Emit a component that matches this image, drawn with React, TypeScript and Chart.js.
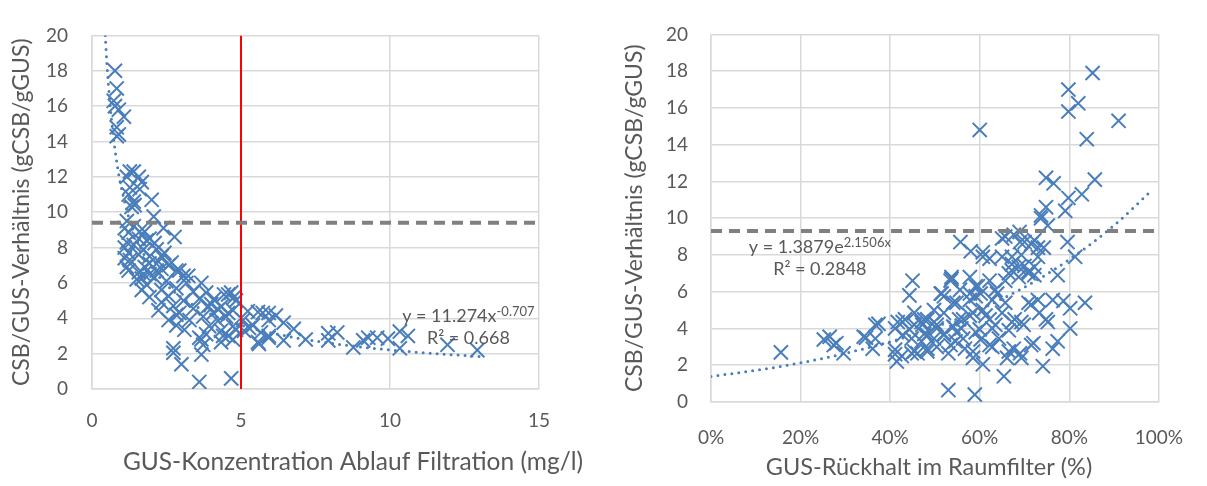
import { useEffect, useRef } from 'react';
import { Chart, registerables } from 'chart.js';

Chart.register(...registerables);

const FONT = 'Lato, "Open Sans", sans-serif';
const TEXT = '#595959';
const BLUE = '#4a7ebb';
const GRID = '#d9d9d9';

// ---------- Left chart: GUS-Konzentration vs CSB/GUS ----------
const leftX = [
  0.77, 0.83, 0.73, 0.77, 0.9, 1.07, 0.83, 0.9, 0.83, 1.27, 1.4, 1.17, 1.57, 1.67, 1.27, 1.6, 1.23, 2.0, 1.4, 1.43,
  1.33, 2.07, 1.17, 1.4, 1.1, 2.4, 1.77, 1.23, 1.6, 2.77, 1.57, 1.93, 1.17, 2.1, 1.83, 1.4, 1.1, 1.73, 2.17, 2.43,
  1.23, 1.57, 1.93, 2.33, 1.27, 1.1, 2.23, 2.67, 1.93, 2.57, 1.17, 1.77, 2.33, 2.93, 1.23, 2.17, 2.83, 1.57, 1.93, 1.73,
  3.23, 3.07, 2.1, 1.67, 1.5, 2.5, 3.67, 3.17, 1.83, 1.67, 2.33, 2.83, 3.4, 3.83, 4.67, 4.43, 4.57, 2.57, 4.77, 1.93,
  3.6, 4.1, 3.07, 4.83, 2.33, 4.0, 2.73, 3.9, 4.33, 3.4, 4.23, 2.23, 4.73, 5.23, 5.57, 2.93, 4.07, 4.57, 5.73, 5.93,
  2.83, 3.73, 4.5, 2.57, 3.27, 5.07, 5.93, 4.23, 6.43, 2.83, 5.4, 3.93, 4.73, 5.27, 6.77, 3.1, 4.83, 4.33, 5.1, 5.67,
  3.83, 4.57, 4.4, 5.93, 5.93, 3.6, 3.67, 4.73, 6.43, 4.33, 5.57, 5.6, 3.73, 2.73, 2.73, 3.67, 3.0, 3.6, 4.67, 6.17,
  7.17, 7.93, 8.23, 7.93, 8.77, 9.1, 9.27, 9.57, 9.93, 10.33, 10.6, 10.33, 11.93, 12.93,
];
const leftY = [
  18.0, 17.0, 16.3, 16.0, 15.8, 15.4, 14.8, 14.4, 14.3, 12.3, 12.3, 12.0, 12.0, 11.7, 11.4, 11.3, 11.0, 10.7, 10.6, 10.4,
  10.3, 9.75, 9.5, 9.2, 9.1, 9.1, 8.9, 8.85, 8.9, 8.6, 8.5, 8.5, 8.3, 8.25, 8.4, 8.15, 8.0, 7.9, 7.9, 7.7,
  7.7, 7.6, 7.5, 7.5, 7.3, 7.4, 7.2, 7.15, 7.1, 7.0, 6.9, 6.9, 6.8, 6.7, 6.7, 6.7, 6.7, 6.6, 6.5, 6.5,
  6.4, 6.4, 6.3, 6.25, 6.2, 6.1, 6.0, 6.0, 5.9, 5.6, 5.6, 5.7, 5.5, 5.45, 5.45, 5.35, 5.35, 5.25, 5.2, 5.2,
  5.1, 5.1, 5.0, 5.0, 4.9, 4.8, 4.7, 4.7, 4.65, 4.55, 4.5, 4.45, 4.45, 4.4, 4.35, 4.3, 4.3, 4.3, 4.3, 4.3,
  4.2, 4.1, 4.1, 3.9, 3.9, 3.9, 3.9, 3.85, 3.75, 3.6, 3.6, 3.55, 3.55, 3.45, 3.4, 3.35, 3.35, 3.3, 3.3, 3.2,
  3.1, 3.0, 3.0, 3.0, 2.9, 2.9, 2.8, 2.8, 2.75, 2.65, 2.65, 2.55, 2.5, 2.3, 2.05, 1.95, 1.4, 0.4, 0.6, 4.15,
  2.8, 3.15, 3.2, 2.75, 2.35, 2.75, 2.9, 2.9, 2.85, 3.25, 3.0, 2.3, 2.5, 2.2,
];
const leftTrendX = [0.445, 0.5, 0.6, 0.7, 0.8, 0.9, 1.0, 1.2, 1.5, 2, 2.5, 3, 4, 5, 6, 7, 8, 10, 12, 13];
const leftTrendY = [20, 18.4, 16.2, 14.5, 13.2, 12.1, 11.27, 9.9, 8.46, 6.9, 5.9, 5.19, 4.23, 3.61, 3.18, 2.85, 2.59, 2.21, 1.95, 1.84];
const leftThreshold = 9.4;
const leftLimitX = 5;
const leftXRange = [0, 15];
const leftXStep = 5;
const leftEq = { main: 'y = 11.274x', sup: '-0.707', r2: 'R² = 0.668' };

// ---------- Right chart: GUS-Rückhalt vs CSB/GUS ----------
const rightX = [
  15.6, 25.2, 26.5, 27.4, 28, 29.6, 34.1, 34.6, 36.1, 36.7, 36.7, 37.4, 41.1, 41.5, 41.1, 42.6, 42.8, 41.7, 41.1, 42.8,
  43.3, 44.3, 45.0, 44.3, 45.4, 47.0, 44.8, 44.8, 45.4, 45.4, 46.1, 47, 47.2, 47.6, 47.6, 48.3, 48.3, 48.3, 48.3, 49.8,
  49.8, 49.8, 50.4, 50.4, 50.4, 51.3, 51.5, 52, 52, 52, 52, 53, 53.5, 53.7, 53.5, 53.0, 53.7, 54.1, 54.1, 54.6,
  54.8, 54.8, 55.4, 55.6, 55.7, 55.9, 56.3, 56.3, 56.7, 57.8, 57.8, 57.8, 57.8, 58.0, 58.5, 58.5, 58.5, 58.9, 59.1, 59.1,
  59.1, 59.6, 60, 60, 60.2, 60.2, 60.7, 60.7, 60.7, 60.7, 61.3, 62.2, 62.2, 62.2, 62.2, 62.8, 62.8, 62.8, 63.5, 63.5,
  63.9, 64.3, 65.0, 65, 65, 65.4, 65.7, 65.7, 65.7, 66.1, 66.5, 66.5, 66.5, 67.2, 67.2, 67.2, 67.2, 67.6, 67.6, 67.8,
  68.7, 68.7, 68.9, 69, 69, 69.3, 69.3, 69.3, 69.8, 70.0, 70, 70.9, 70.9, 70.9, 71.5, 71.5, 71.5, 72, 72.2, 72.2,
  72.2, 73, 73, 73, 73.3, 73.7, 73.7, 74.1, 74.3, 74.8, 74.8, 74.8, 75.2, 75.2, 76.3, 76.3, 76.5, 77.4, 77.4, 78.7,
  79.1, 79.6, 79.8, 79.8, 79.8, 80.2, 80.2, 81.3, 82, 82.8, 83.5, 83.9, 85.2, 85.7, 91,
];
const rightY = [
  2.7, 3.4, 3.55, 3.1, 3.2, 2.65, 3.55, 3.5, 2.9, 3.45, 4.2, 4.25, 2.6, 2.2, 2.85, 2.5, 4.35, 4.35, 4.0, 3.65,
  4.5, 3.95, 6.6, 5.8, 4.85, 4.35, 2.65, 3.45, 4.2, 2.75, 2.65, 3.3, 4.2, 4.5, 3.7, 3.65, 4.5, 2.9, 2.75, 5.0,
  4.35, 3.45, 4.2, 4.0, 3.0, 5.9, 5.9, 5.75, 4.85, 3.65, 3.7, 2.65, 6.6, 6.7, 3.1, 0.65, 6.8, 5.4, 4.1, 3.3,
  5.4, 3.8, 4.5, 6.1, 8.7, 4.0, 3.45, 4.5, 2.9, 5.9, 6.8, 5.55, 4.7, 8.2, 4.85, 2.75, 2.4, 0.4, 6.3, 5.75,
  3.8, 6.3, 14.8, 3.95, 5.9, 3.4, 7.9, 8.15, 5.0, 2.05, 4.7, 6.6, 4.5, 3.1, 7.8, 5.55, 4.0, 3.0, 6.1, 4.2,
  5.9, 3.45, 8.9, 7.9, 4.85, 1.4, 9.0, 6.6, 5.4, 2.4, 7.0, 3.9, 2.75, 7.9, 7.5, 7.15, 4.35, 9.1, 2.9, 4.5,
  7.35, 6.8, 9.25, 8.7, 2.65, 8.0, 4.35, 2.4, 4.2, 8.7, 7.4, 7.0, 7.1, 5.4, 8.6, 5.3, 3.1, 3.2, 8.8, 6.9,
  7.35, 7.9, 8.4, 5.55, 4.85, 10.15, 10.0, 1.95, 8.4, 12.2, 10.6, 4.5, 9.6, 4.35, 5.55, 2.9, 11.9, 6.9, 3.3, 5.5,
  10.4, 8.7, 17.0, 15.8, 11.1, 5.1, 4.0, 7.9, 16.25, 11.3, 5.4, 14.3, 17.9, 12.1, 15.3,
];
const rightTrendX = [0, 10, 20, 30, 40, 50, 60, 70, 80, 90, 98];
const rightTrendY = [1.39, 1.72, 2.13, 2.65, 3.28, 4.07, 5.04, 6.25, 7.75, 9.61, 11.42];
const rightThreshold = 9.3;
const rightXRange = [0, 100];
const rightXStep = 20;
const rightEq = { main: 'y = 1.3879e', sup: '2.1506x', r2: 'R² = 0.2848' };

const yRange = [0, 20];
const yStep = 2;

const yTitle = 'CSB/GUS-Verhältnis (gCSB/gGUS)';
const leftXTitle = 'GUS-Konzentration Ablauf Filtration (mg/l)';
const rightXTitle = 'GUS-Rückhalt im Raumfilter (%)';

const toPts = (xs: number[], ys: number[]) => xs.map((x, i) => ({ x, y: ys[i] }));

type EqSpec = { main: string; sup: string; r2: string; cx: number; y1: number; y2: number };
type TitleSpec = { text: string; cx: number; cy: number; size: number };

function textPlugin(spec: EqSpec, title: TitleSpec) {
  return {
    id: 'eqText',
    afterDatasetsDraw(chart: any) {
      const { ctx, scales } = chart;
      const xs = scales.x;
      const ys = scales.y;
      const cx = xs.getPixelForValue(spec.cx);
      const y1 = ys.getPixelForValue(spec.y1);
      const y2 = ys.getPixelForValue(spec.y2);
      ctx.save();
      ctx.fillStyle = TEXT;
      ctx.textBaseline = 'middle';
      ctx.textAlign = 'left';
      const mainFont = `18px ${FONT}`;
      const supFont = `13px ${FONT}`;
      ctx.font = mainFont;
      const wMain = ctx.measureText(spec.main).width;
      ctx.font = supFont;
      const wSup = ctx.measureText(spec.sup).width;
      const start = cx - (wMain + wSup) / 2;
      ctx.font = mainFont;
      ctx.fillText(spec.main, start, y1);
      ctx.font = supFont;
      ctx.fillText(spec.sup, start + wMain, y1 - 5);
      ctx.font = mainFont;
      ctx.textAlign = 'center';
      ctx.fillText(spec.r2, cx, y2);
      ctx.restore();
    },
    afterDraw(chart: any) {
      const { ctx } = chart;
      ctx.save();
      ctx.fillStyle = TEXT;
      ctx.textBaseline = 'middle';
      ctx.textAlign = 'center';
      ctx.font = `${title.size}px ${FONT}`;
      ctx.fillText(title.text, title.cx, title.cy);
      ctx.restore();
    },
  };
}

type PanelCfg = {
  xs: number[];
  ys: number[];
  tx: number[];
  ty: number[];
  threshold: number;
  limitX?: number;
  xRange: number[];
  xStep: number;
  pct: boolean;
  xTitle: TitleSpec;
  eq: EqSpec;
  padRight: number;
  padTop: number;
  yAxisWidth: number;
  xAxisHeight: number;
  yTickPad: number;
  xTickPad: number;
  yTitlePad: number;
};

function buildConfig(c: PanelCfg): any {
  const datasets: any[] = [
    {
      type: 'line',
      data: [
        { x: c.xRange[0], y: c.threshold },
        { x: c.xRange[1], y: c.threshold },
      ],
      borderColor: '#808080',
      borderWidth: 4,
      borderDash: [11, 7],
      pointRadius: 0,
    },
  ];
  if (c.limitX !== undefined) {
    datasets.push({
      type: 'line',
      data: [
        { x: c.limitX, y: yRange[0] },
        { x: c.limitX, y: yRange[1] },
      ],
      borderColor: '#ff0000',
      borderWidth: 2,
      pointRadius: 0,
    });
  }
  datasets.push({
    type: 'line',
    data: toPts(c.tx, c.ty),
    borderColor: BLUE,
    borderWidth: 3,
    borderDash: [0, 7],
    borderCapStyle: 'round',
    pointRadius: 0,
    cubicInterpolationMode: 'monotone',
  });
  datasets.push({
    type: 'scatter',
    data: toPts(c.xs, c.ys),
    pointStyle: 'crossRot',
    pointRadius: 10,
    borderColor: BLUE,
    backgroundColor: BLUE,
    borderWidth: 2,
  });

  return {
    type: 'scatter',
    data: { datasets },
    options: {
      responsive: false,
      animation: false,
      events: [],
      layout: { padding: { left: 0, right: c.padRight, top: c.padTop, bottom: 0 } },
      plugins: { legend: { display: false }, tooltip: { enabled: false } },
      scales: {
        x: {
          type: 'linear',
          min: c.xRange[0],
          max: c.xRange[1],
          afterFit: (s: any) => {
            s.height = c.xAxisHeight;
          },
          ticks: {
            stepSize: c.xStep,
            color: TEXT,
            font: { family: FONT, size: 19 },
            padding: c.xTickPad,
            callback: (v: number) => (c.pct ? `${v}%` : `${v}`),
          },
          grid: { color: GRID, lineWidth: 1.5, drawTicks: false },
          border: { color: GRID, width: 1.5 },
          title: { display: false },
        },
        y: {
          type: 'linear',
          min: yRange[0],
          max: yRange[1],
          afterFit: (s: any) => {
            s.width = c.yAxisWidth;
          },
          ticks: {
            stepSize: yStep,
            color: TEXT,
            font: { family: FONT, size: 19 },
            padding: c.yTickPad,
          },
          grid: { color: GRID, lineWidth: 1.5, drawTicks: false },
          border: { color: GRID, width: 1.5 },
          title: {
            display: true,
            text: yTitle,
            color: TEXT,
            font: { family: FONT, size: 23 },
            padding: { top: c.yTitlePad, bottom: 0 },
          },
        },
      },
    },
    plugins: [textPlugin(c.eq, c.xTitle)],
  };
}

function Panel({ cfg, left, width }: { cfg: PanelCfg; left: number; width: number }) {
  const ref = useRef<HTMLCanvasElement | null>(null);
  useEffect(() => {
    if (!ref.current) return;
    const chart = new Chart(ref.current, buildConfig(cfg));
    return () => chart.destroy();
  }, []);
  return (
    <canvas
      ref={ref}
      width={width}
      height={486}
      style={{ position: 'absolute', left, top: 0, width, height: 486 }}
    />
  );
}

const leftCfg: PanelCfg = {
  xs: leftX,
  ys: leftY,
  tx: leftTrendX,
  ty: leftTrendY,
  threshold: leftThreshold,
  limitX: leftLimitX,
  xRange: leftXRange,
  xStep: leftXStep,
  pct: false,
  xTitle: { text: leftXTitle, cx: 353, cy: 462, size: 24.5 },
  eq: { ...leftEq, cx: 12.63, y1: 4.1, y2: 2.86 },
  padRight: 64,
  padTop: 20,
  yAxisWidth: 92,
  xAxisHeight: 97,
  yTickPad: 24,
  xTickPad: 20,
  yTitlePad: 8,
};

const rightCfg: PanelCfg = {
  xs: rightX,
  ys: rightY,
  tx: rightTrendX,
  ty: rightTrendY,
  threshold: rightThreshold,
  xRange: rightXRange,
  xStep: rightXStep,
  pct: true,
  xTitle: { text: rightXTitle, cx: 929 - 603, cy: 467, size: 23.5 },
  eq: { ...rightEq, cx: 24.3, y1: 8.41, y2: 7.25 },
  padRight: 36,
  padTop: 24,
  yAxisWidth: 108,
  xAxisHeight: 84,
  yTickPad: 23,
  xTickPad: 24,
  yTitlePad: 18,
};

export default function App() {
  return (
    <div style={{ position: 'absolute', left: 0, top: 0, width: 1207, height: 486, background: '#fff', overflow: 'hidden' }}>
      <Panel cfg={leftCfg} left={0} width={603} />
      <Panel cfg={rightCfg} left={603} width={604} />
    </div>
  );
}
